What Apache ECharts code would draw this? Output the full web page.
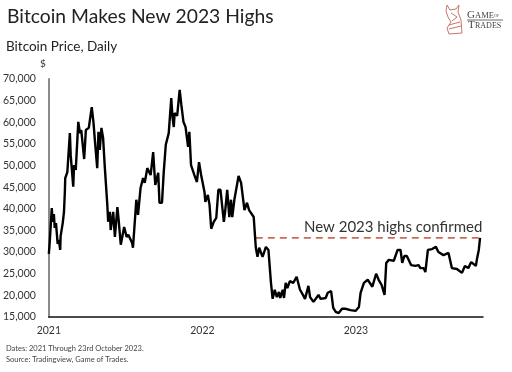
<!DOCTYPE html>
<html>
<head>
<meta charset="utf-8">
<style>
  html, body { margin: 0; padding: 0; background: #fff; }
  #chart { width: 512px; height: 372px; }
</style>
<script src="https://cdn.jsdelivr.net/npm/echarts@6/dist/echarts.min.js"></script>
</head>
<body>
<div id="chart"></div>
<script>
// days since 1 Jan 2021
const days = [0,2,7,9,12,14,17,21,24,27,28,33,36,38,39,44,50,52,58,60,64,70,74,77,84,88,95,102,106,110,115,118,121,125,129,133,139,141,145,147,153,157,163,166,171,179,185,189,198,200,208,212,218,224,228,234,242,248,253,260,263,269,273,278,285,291,294,297,299,305,311,315,320,325,331,334,338,346,352,357,362,370,372,378,382,386,392,398,403,408,416,419,424,429,433,436,441,451,457,465,471,476,487,492,496,500,508,516,522,528,532,537,542,547,550,556,559,563,567,573,581,589,597,604,609,617,621,629,641,646,658,663,671,676,682,689,697,705,709,717,729,737,741,749,758,769,778,784,791,798,802,808,820,829,836,840,845,851,861,871,879,883,891,895,901,911,920,926,938,950,958,970,982,989,997,1004,1015,1018,1022,1025]
const prices = [29600,32100,40200,37000,38800,35600,36700,31900,32800,30500,33700,36700,39300,43700,47100,48500,57500,52400,45100,50100,49000,60100,57500,58200,51500,58200,58700,63500,60100,55200,49400,57800,53600,58700,56400,49700,40900,37000,39300,35100,39300,33500,40400,37400,31700,35800,33500,34000,32100,31000,42100,38600,44800,47100,46000,49400,47800,53100,45500,48300,41400,41400,48300,54800,57500,65600,61200,58900,62100,61500,67500,64000,60100,58900,54300,57800,50100,47800,46200,50800,47800,43900,41600,43200,40900,35400,37000,37900,44400,44400,37000,39300,44400,38100,42100,38100,42100,47600,46000,39700,41400,39700,38100,31000,28900,31000,28900,31200,30500,22900,19200,21300,19600,20800,19400,21300,19400,22900,21700,23300,22900,24300,21300,20100,19200,22200,19600,18500,20100,19200,19400,20600,21000,17100,16200,15900,16900,16900,17300,16600,16400,17300,20600,22900,23600,22000,25000,23600,22400,20100,27500,28200,28000,30500,30500,27500,29100,29100,27000,26800,27000,26300,26300,25400,30500,30700,31200,30000,29300,29800,26300,26100,25200,26800,26300,27700,26800,28600,30500,33300]
const highDays = [492, 1025]
const highLevel = 33300
const yearLabels = ['2021', '2022', '2023']

const font = 'Lato, "Noto Sans", sans-serif'
const serif = '"Liberation Serif", serif'
const chart = echarts.init(document.getElementById('chart'))

const text = (x, y, str, fontSize, fill, family) => ({
  type: 'text',
  x: x,
  y: y,
  style: { text: str, font: fontSize + 'px ' + (family || font), fill: fill, textVerticalAlign: 'middle' }
})
const logoStroke = (points) => ({
  type: 'polyline',
  shape: { points: points },
  style: { fill: 'none', stroke: '#c0675a', lineWidth: 0.9 }
})

chart.setOption({
  animation: false,
  backgroundColor: '#fff',
  grid: { left: 47, right: 29, top: 79, bottom: 55 },
  xAxis: {
    type: 'value',
    min: 0,
    max: 1032,
    interval: 365,
    splitLine: { show: false },
    axisTick: { show: false },
    axisLine: { show: true, lineStyle: { color: '#111', width: 1.5 } },
    axisLabel: {
      color: '#333',
      fontSize: 10.5,
      fontFamily: font,
      margin: 8,
      alignMinLabel: 'center',
      formatter: (v) => yearLabels[Math.round(v / 365)]
    }
  },
  yAxis: {
    type: 'value',
    min: 15000,
    max: 70000,
    interval: 5000,
    splitLine: { show: false },
    axisTick: { show: false },
    axisLine: { show: true, onZero: false, lineStyle: { color: '#8a8a8a', width: 2 } },
    axisLabel: {
      color: '#333',
      fontSize: 10.5,
      fontFamily: font,
      margin: 13,
      formatter: (v) => v.toLocaleString('en-US')
    }
  },
  series: [
    {
      type: 'line',
      data: days.map((d, i) => [d, prices[i]]),
      showSymbol: false,
      lineStyle: { color: '#000', width: 2.4 },
      z: 3
    },
    {
      type: 'line',
      data: highDays.map((d) => [d, highLevel]),
      showSymbol: false,
      lineStyle: { color: '#cf6a5a', width: 1.8, type: [7, 5] },
      z: 2
    }
  ],
  graphic: [
    text(7, 17, 'Bitcoin Makes New 2023 Highs', 19.3, '#222'),
    text(6, 47, 'Bitcoin Price, Daily', 13.5, '#222'),
    text(40, 64, '$', 10, '#333'),
    text(304, 227, 'New 2023 highs confirmed', 15, '#333'),
    text(6, 349, 'Dates: 2021 Through 23rd October 2023.', 7.5, '#444'),
    text(6, 360, 'Source: Tradingview, Game of Trades.', 7.5, '#444'),
    // logo: rough knight outline plus wordmark
    logoStroke([[447,5],[450,10],[456,9],[459,5],[458,12],[461,20],[462,33],[449,34],[447,28],[451,22],[448,17],[446,11],[447,5]]),
    logoStroke([[449,25],[460,22]]),
    logoStroke([[449,29],[461,26]]),
    logoStroke([[451,13],[457,17],[452,21]]),
    text(467, 15, 'G', 11, '#444', serif),
    text(475, 15.5, 'AME', 8.5, '#444', serif),
    text(494, 16, 'OF', 4, '#444', serif),
    {
      type: 'line',
      shape: { x1: 467, y1: 20, x2: 503, y2: 20 },
      style: { stroke: '#444', lineWidth: 0.8 }
    },
    text(468, 25, 'T', 11, '#444', serif),
    text(475, 25.5, 'RADES', 8, '#444', serif)
  ]
})
</script>
</body>
</html>
